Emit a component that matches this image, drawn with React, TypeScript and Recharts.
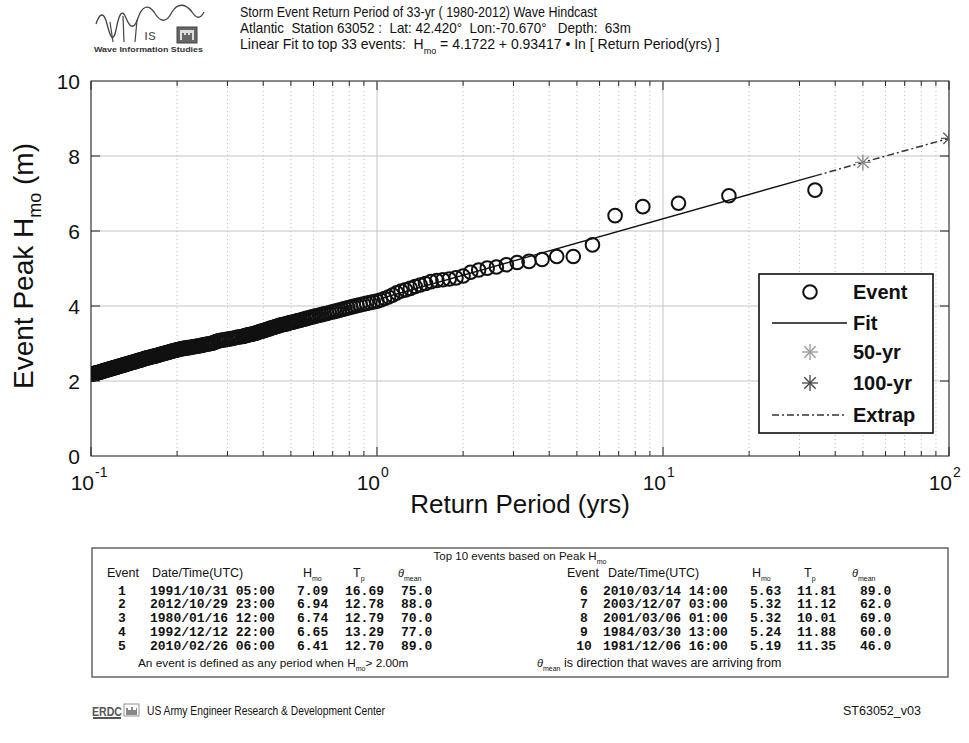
import React from 'react';
import {
  ComposedChart,
  Scatter,
  XAxis,
  YAxis,
  CartesianGrid,
  ReferenceLine,
  ReferenceArea,
  Legend,
  Label,
} from 'recharts';

const FONT = '"Liberation Sans", Arial, Helvetica, sans-serif';
const MONO = '"Liberation Mono", "Courier New", monospace';

// ---- Ranked storm events: return period (yrs) and peak Hmo (m) ----
const eventPeriod = [
  34, 17, 11.33, 8.5, 6.8, 5.667, 4.857, 4.25, 3.778, 3.4,
  3.091, 2.833, 2.615, 2.429, 2.267, 2.125, 2.0, 1.889, 1.789, 1.7,
  1.619, 1.545, 1.478, 1.417, 1.36, 1.308, 1.259, 1.214, 1.172, 1.133,
  1.097, 1.063, 1.03, 1.0, 0.971, 0.944, 0.919, 0.895, 0.872, 0.85,
  0.829, 0.81, 0.791, 0.773, 0.756, 0.739, 0.723, 0.708, 0.694, 0.68,
  0.667, 0.654, 0.642, 0.63, 0.618, 0.607, 0.596, 0.586, 0.576, 0.567,
  0.557, 0.548, 0.54, 0.531, 0.523, 0.515, 0.507, 0.5, 0.493, 0.486,
  0.479, 0.472, 0.466, 0.459, 0.453, 0.447, 0.442, 0.436, 0.43, 0.425,
  0.42, 0.415, 0.41, 0.405, 0.4, 0.395, 0.391, 0.386, 0.382, 0.378,
  0.374, 0.37, 0.366, 0.362, 0.358, 0.354, 0.351, 0.347, 0.343, 0.34,
  0.333, 0.327, 0.321, 0.315, 0.309, 0.304, 0.298, 0.293, 0.288, 0.283,
  0.279, 0.274, 0.27, 0.266, 0.262, 0.258, 0.254, 0.25, 0.246, 0.243,
  0.239, 0.236, 0.233, 0.23, 0.227, 0.224, 0.221, 0.218, 0.215, 0.2125,
  0.21, 0.207, 0.205, 0.202, 0.2, 0.198, 0.195, 0.193, 0.191, 0.189,
  0.187, 0.185, 0.183, 0.181, 0.179, 0.177, 0.175, 0.173, 0.172, 0.17,
  0.1683, 0.1667, 0.165, 0.1635, 0.1619, 0.1604, 0.1589, 0.1574, 0.156, 0.1545,
  0.1532, 0.1518, 0.1504, 0.1491, 0.1478, 0.1466, 0.1453, 0.1441, 0.1429, 0.1417,
  0.1405, 0.1393, 0.1382, 0.1371, 0.136, 0.1349, 0.1339, 0.1328, 0.1318, 0.1308,
  0.1298, 0.1288, 0.1278, 0.1269, 0.1259, 0.125, 0.1241, 0.1232, 0.1223, 0.1214,
  0.1206, 0.1197, 0.1189, 0.1181, 0.1172, 0.1164, 0.1156, 0.1149, 0.1141, 0.1133,
  0.1126, 0.1118, 0.1111, 0.1104, 0.1097, 0.109, 0.1083, 0.1076, 0.1069, 0.1063,
  0.1056, 0.1049, 0.1043, 0.1037, 0.103, 0.1024, 0.1018, 0.1012,
];

const eventHmo = [
  7.09, 6.94, 6.74, 6.65, 6.41, 5.63, 5.32, 5.32, 5.24, 5.19,
  5.16, 5.1, 5.04, 5.01, 4.96, 4.9, 4.8, 4.75, 4.72, 4.7,
  4.68, 4.65, 4.6, 4.56, 4.52, 4.47, 4.43, 4.4, 4.35, 4.29,
  4.24, 4.2, 4.16, 4.13, 4.11, 4.09, 4.07, 4.05, 4.03, 4.01,
  3.99, 3.97, 3.95, 3.93, 3.91, 3.89, 3.87, 3.85, 3.84, 3.82,
  3.8, 3.79, 3.77, 3.76, 3.74, 3.73, 3.71, 3.7, 3.68, 3.67,
  3.65, 3.64, 3.62, 3.61, 3.6, 3.58, 3.57, 3.56, 3.55, 3.53,
  3.52, 3.51, 3.5, 3.49, 3.47, 3.46, 3.45, 3.43, 3.42, 3.41,
  3.39, 3.38, 3.37, 3.35, 3.34, 3.33, 3.32, 3.31, 3.29, 3.28,
  3.27, 3.26, 3.25, 3.24, 3.24, 3.23, 3.22, 3.21, 3.2, 3.19,
  3.18, 3.17, 3.16, 3.14, 3.13, 3.12, 3.11, 3.1, 3.09, 3.08,
  3.07, 3.05, 3.03, 3.01, 3.0, 2.99, 2.98, 2.97, 2.96, 2.95,
  2.94, 2.93, 2.92, 2.92, 2.91, 2.9, 2.89, 2.89, 2.88, 2.87,
  2.87, 2.86, 2.85, 2.84, 2.83, 2.82, 2.81, 2.8, 2.79, 2.78,
  2.77, 2.76, 2.75, 2.74, 2.73, 2.72, 2.71, 2.7, 2.69, 2.68,
  2.67, 2.66, 2.66, 2.65, 2.64, 2.63, 2.62, 2.62, 2.61, 2.6,
  2.59, 2.58, 2.57, 2.56, 2.55, 2.55, 2.54, 2.53, 2.52, 2.51,
  2.5, 2.5, 2.49, 2.48, 2.47, 2.46, 2.46, 2.45, 2.44, 2.43,
  2.43, 2.42, 2.41, 2.4, 2.4, 2.39, 2.38, 2.37, 2.37, 2.36,
  2.35, 2.35, 2.34, 2.33, 2.33, 2.32, 2.31, 2.31, 2.3, 2.29,
  2.29, 2.28, 2.27, 2.27, 2.26, 2.25, 2.25, 2.24, 2.23, 2.23,
  2.22, 2.22, 2.21, 2.21, 2.2, 2.2, 2.19, 2.18,
];

// ---- Fit, extrapolation, design events ----
const fitPeriod = [1.03, 34];
const fitHmo = [4.2, 7.47];
const extrapPeriod = [34, 50, 100];
const extrapHmo = [7.47, 7.83, 8.47];
const yr50Period = [50];
const yr50Hmo = [7.83];
const yr100Period = [100];
const yr100Hmo = [8.47];

// ---- Axes ----
const xTicks = [
  0.1, 0.2, 0.3, 0.4, 0.5, 0.6, 0.7, 0.8, 0.9,
  1, 2, 3, 4, 5, 6, 7, 8, 9,
  10, 20, 30, 40, 50, 60, 70, 80, 90, 100,
];
const xMajorTicks = [0.1, 1, 10, 100];
const xMajorExponents = ['-1', '0', '1', '2'];
const xMinorGrid = [
  0.2, 0.3, 0.4, 0.5, 0.6, 0.7, 0.8, 0.9,
  2, 3, 4, 5, 6, 7, 8, 9,
  20, 30, 40, 50, 60, 70, 80, 90,
];
const xMajorGrid = [1, 10];
const yTicks = [0, 2, 4, 6, 8, 10];

// ---- Top-10 table ----
const topEventNo = [1, 2, 3, 4, 5, 6, 7, 8, 9, 10];
const topDate = [
  '1991/10/31 05:00', '2012/10/29 23:00', '1980/01/16 12:00', '1992/12/12 22:00', '2010/02/26 06:00',
  '2010/03/14 14:00', '2003/12/07 03:00', '2001/03/06 01:00', '1984/03/30 13:00', '1981/12/06 16:00',
];
const topHmo = ['7.09', '6.94', '6.74', '6.65', '6.41', '5.63', '5.32', '5.32', '5.24', '5.19'];
const topTp = ['16.69', '12.78', '12.79', '13.29', '12.70', '11.81', '11.12', '10.01', '11.88', '11.35'];
const topDir = ['75.0', '88.0', '70.0', '77.0', '89.0', '89.0', '62.0', '69.0', '60.0', '46.0'];

// ---- Layout constants ----
const W = 969;
const H = 743;
const PLOT_W = 858;
const PLOT_H = 375;

const eventData = eventPeriod.map((x, i) => ({ x, y: eventHmo[i] }));
const fitData = fitPeriod.map((x, i) => ({ x, y: fitHmo[i] }));
const extrapData = extrapPeriod.map((x, i) => ({ x, y: extrapHmo[i] }));
const yr50Data = yr50Period.map((x, i) => ({ x, y: yr50Hmo[i] }));
const yr100Data = yr100Period.map((x, i) => ({ x, y: yr100Hmo[i] }));

const Ring = (props: any) => {
  const { cx, cy } = props;
  if (cx == null || cy == null) return <g />;
  return <circle cx={cx} cy={cy} r={6.8} fill="none" stroke="#111" strokeWidth={2} />;
};

const StarMark = ({ cx, cy, color }: { cx: number; cy: number; color: string }) => {
  const s = 8;
  const d = 5.7;
  return (
    <g stroke={color} strokeWidth={1.3}>
      <line x1={cx - s} y1={cy} x2={cx + s} y2={cy} />
      <line x1={cx} y1={cy - s} x2={cx} y2={cy + s} />
      <line x1={cx - d} y1={cy - d} x2={cx + d} y2={cy + d} />
      <line x1={cx - d} y1={cy + d} x2={cx + d} y2={cy - d} />
    </g>
  );
};

const NoMark = () => <g />;

const XTick = (props: any) => {
  const { x, y, payload } = props;
  const v = payload.value;
  const mi = xMajorTicks.indexOf(v);
  const len = mi >= 0 ? 9 : 5;
  return (
    <g>
      <line x1={x} y1={y} x2={x} y2={y - len} stroke="#222" strokeWidth={1} />
      <line x1={x} y1={y - PLOT_H} x2={x} y2={y - PLOT_H + len} stroke="#222" strokeWidth={1} />
      {mi >= 0 && (
        <g fontFamily={FONT} fill="#111">
          <text x={x + 3} y={y + 34} textAnchor="end" fontSize={21}>10</text>
          <text x={x + 4} y={y + 21} textAnchor="start" fontSize={14}>{xMajorExponents[mi]}</text>
        </g>
      )}
    </g>
  );
};

const YTick = (props: any) => {
  const { x, y, payload } = props;
  const v = payload.value;
  return (
    <g>
      {v > 0 && v < 10 && (
        <g stroke="#222" strokeWidth={1}>
          <line x1={x} y1={y} x2={x + 9} y2={y} />
          <line x1={x + PLOT_W} y1={y} x2={x + PLOT_W - 9} y2={y} />
        </g>
      )}
      <text x={x - 11} y={y + 7.5} textAnchor="end" fontSize={21} fontFamily={FONT} fill="#111">
        {v}
      </text>
    </g>
  );
};

const LegendBox = () => {
  const rows = [19, 50, 79, 110, 142];
  const mx = 52;
  const tx = 95;
  const textProps = { x: tx, fontSize: 20, fontWeight: 700, fontFamily: FONT, fill: '#111' } as any;
  return (
    <svg width={176} height={162} style={{ display: 'block' }}>
      <rect x={1} y={1} width={174} height={159} fill="#fff" stroke="#111" strokeWidth={1.6} />
      <circle cx={mx} cy={rows[0]} r={6.8} fill="none" stroke="#111" strokeWidth={2} />
      <text {...textProps} y={rows[0] + 7}>Event</text>
      <line x1={14} y1={rows[1]} x2={89} y2={rows[1]} stroke="#111" strokeWidth={1.4} />
      <text {...textProps} y={rows[1] + 7}>Fit</text>
      <StarMark cx={mx} cy={rows[2]} color="#9a9a9a" />
      <text {...textProps} y={rows[2] + 7}>50-yr</text>
      <StarMark cx={mx} cy={rows[3]} color="#444" />
      <text {...textProps} y={rows[3] + 7}>100-yr</text>
      <line x1={14} y1={rows[4]} x2={89} y2={rows[4]} stroke="#333" strokeWidth={1.4} strokeDasharray="7 3 2 3" />
      <text {...textProps} y={rows[4] + 7}>Extrap</text>
    </svg>
  );
};

const Logo = () => (
  <g>
    <path
      d="M96 24 C100 12 104 12 107 24 C110 36 113 44 116 30 C119 14 122 8 126 18 C130 28 134 30 138 18 C142 6 148 4 154 12 C160 22 166 24 172 12 C178 2 186 4 192 12 C196 18 200 20 204 12"
      fill="none"
      stroke="#444"
      strokeWidth={1.3}
    />
    <path d="M110 22 L113 42 M123 16 L124 42 M137 20 L135 42" stroke="#444" strokeWidth={1.2} fill="none" />
    <text x={144} y={40} fontFamily={FONT} fontSize={15} fill="#555">ıs</text>
    <rect x={177} y={27} width={20} height={16} fill="#666" stroke="#444" />
    <rect x={180} y={30} width={14} height={10} fill="#ddd" />
    <path d="M182 40 L182 33 L184 33 L184 35 L186 35 L186 33 L188 33 L188 35 L190 35 L190 33 L192 33 L192 40" fill="#666" />
    <text x={94} y={52} fontFamily={FONT} fontSize={6.4} fontWeight={700} fill="#333" textLength={109} lengthAdjust="spacingAndGlyphs">
      Wave Information Studies
    </text>
  </g>
);

const ErdcLogo = () => (
  <g>
    <text x={92} y={716} fontFamily={FONT} fontSize={13} fontWeight={700} fill="#555" textLength={30} lengthAdjust="spacingAndGlyphs">
      ERDC
    </text>
    <rect x={93} y={717} width={28} height={2} fill="#555" />
    <rect x={124} y={704} width={15} height={12} fill="#fff" stroke="#777" strokeWidth={0.8} />
    <path d="M126 715 L126 708 L128 708 L128 710 L131 710 L131 707 L133 707 L133 710 L136 710 L136 708 L137 708 L137 715 Z" fill="#888" />
  </g>
);

const Overlay = () => {
  const leftCols = { no: 122, date: 150, h: 297, tp: 345, dir: 401 };
  const rightCols = { no: 584, date: 603, h: 750, tp: 797, dir: 860 };
  const rowY = [594.5, 608.3, 622, 635.8, 649.5];
  const mono = { fontFamily: MONO, fontSize: 13, fontWeight: 700, fill: '#111' } as any;
  const sans = { fontFamily: FONT, fill: '#111' } as any;
  const renderRows = (start: number, cols: any) =>
    rowY.map((yy, k) => {
      const i = start + k;
      return (
        <g key={i} {...mono}>
          <text x={cols.no} y={yy} textAnchor="middle">{topEventNo[i]}</text>
          <text x={cols.date} y={yy}>{topDate[i]}</text>
          <text x={cols.h} y={yy}>{topHmo[i]}</text>
          <text x={cols.tp} y={yy}>{topTp[i]}</text>
          <text x={cols.dir} y={yy}>{topDir[i]}</text>
        </g>
      );
    });
  const header = (ev: number, dt: number, hx: number, tx: number, thx: number) => (
    <g {...sans} fontSize={12.5}>
      <text x={ev} y={577}>Event</text>
      <text x={dt} y={577}>Date/Time(UTC)</text>
      <text x={hx} y={577}>H<tspan fontSize={7} dy={4}>mo</tspan></text>
      <text x={tx} y={577}>T<tspan fontSize={7} dy={4}>p</tspan></text>
      <text x={thx} y={577}>
        <tspan fontStyle="italic" fontSize={11}>θ</tspan>
        <tspan fontSize={7} dy={4}>mean</tspan>
      </text>
    </g>
  );
  return (
    <svg width={W} height={H} style={{ position: 'absolute', left: 0, top: 0, pointerEvents: 'none' }}>
      <Logo />
      <g {...sans}>
        <text x={240} y={17} fontSize={15} textLength={357} lengthAdjust="spacingAndGlyphs">
          Storm Event Return Period of 33-yr ( 1980-2012) Wave Hindcast
        </text>
        <text x={240} y={33} fontSize={15} xmlSpace="preserve" textLength={391} lengthAdjust="spacingAndGlyphs">
          {'Atlantic  Station 63052 :  Lat: 42.420°  Lon:-70.670°   Depth:  63m'}
        </text>
        <text x={240} y={49} fontSize={14} xmlSpace="preserve">
          {'Linear Fit to top 33 events:  H'}
          <tspan fontSize={9} dy={5}>mo</tspan>
          <tspan dy={-5}>{' = 4.1722 + 0.93417 • In [ Return Period(yrs) ]'}</tspan>
        </text>
      </g>

      {/* table */}
      <rect x={92} y={548} width={856} height={129} fill="none" stroke="#666" strokeWidth={1.5} />
      <text {...sans} x={520} y={560} fontSize={11.5} textAnchor="middle">
        Top 10 events based on Peak H<tspan fontSize={7} dy={4}>mo</tspan>
      </text>
      {header(107, 152, 303, 353, 398)}
      {header(567, 608, 752, 804, 852)}
      {renderRows(0, leftCols)}
      {renderRows(5, rightCols)}
      <text {...sans} x={138} y={667} fontSize={11.8}>
        An event is defined as any period when H<tspan fontSize={7} dy={4}>mo</tspan>
        <tspan dy={-4}>{'> 2.00m'}</tspan>
      </text>
      <text {...sans} x={537} y={667} fontSize={12.5}>
        <tspan fontStyle="italic" fontSize={11}>θ</tspan>
        <tspan fontSize={7} dy={4}>mean</tspan>
        <tspan dy={-4}>{' is direction that waves are arriving from'}</tspan>
      </text>

      {/* footer */}
      <ErdcLogo />
      <text {...sans} x={147} y={715} fontSize={12.5} textLength={238} lengthAdjust="spacingAndGlyphs">
        US Army Engineer Research &amp; Development Center
      </text>
      <text {...sans} x={843} y={715} fontSize={12.5}>ST63052_v03</text>
    </svg>
  );
};

const YLabel = () => (
  <text
    transform="translate(33, 266) rotate(-90)"
    textAnchor="middle"
    fontFamily={FONT}
    fontSize={28}
    fill="#111"
  >
    Event Peak H<tspan fontSize={18} dy={8}>mo</tspan>
    <tspan dy={-8}> (m)</tspan>
  </text>
);

const XLabel = () => (
  <text x={520} y={513} textAnchor="middle" fontFamily={FONT} fontSize={26} fill="#111">
    Return Period (yrs)
  </text>
);

export default function App() {
  return (
    <div style={{ position: 'absolute', left: 0, top: 0, width: W, height: H, background: '#fff' }}>
      <div style={{ position: 'absolute', left: 0, top: 0 }}>
        <ComposedChart
          width={W}
          height={H}
          margin={{ top: 81, right: 20, bottom: 257, left: 0 }}
        >
          <CartesianGrid vertical={false} stroke="#c4c4c4" strokeWidth={1} />
          {xMinorGrid.map((v) => (
            <ReferenceLine key={'mg' + v} x={v} stroke="#bdbdbd" strokeWidth={1} strokeDasharray="1 3" />
          ))}
          {xMajorGrid.map((v) => (
            <ReferenceLine key={'Mg' + v} x={v} stroke="#c4c4c4" strokeWidth={1} />
          ))}
          <XAxis
            dataKey="x"
            type="number"
            scale="log"
            domain={[0.1, 100]}
            ticks={xTicks}
            interval={0}
            allowDataOverflow
            tick={XTick}
            tickLine={false}
            axisLine={false}
            tickSize={0}
            tickMargin={0}
            height={30}
          >
            <Label content={XLabel} />
          </XAxis>
          <YAxis
            dataKey="y"
            type="number"
            domain={[0, 10]}
            ticks={yTicks}
            interval={0}
            allowDataOverflow
            tick={YTick}
            tickLine={false}
            axisLine={false}
            tickSize={0}
            tickMargin={0}
            width={91}
          >
            <Label content={YLabel} />
          </YAxis>
          <ReferenceArea x1={0.1} x2={100} y1={0} y2={10} fill="none" stroke="#333" strokeWidth={1.2} />
          <Scatter name="Event" data={eventData} shape={Ring} isAnimationActive={false} />
          <Scatter
            name="Fit"
            data={fitData}
            shape={NoMark}
            line={{ stroke: '#111', strokeWidth: 1.4 }}
            lineType="joint"
            isAnimationActive={false}
          />
          <Scatter
            name="Extrap"
            data={extrapData}
            shape={NoMark}
            line={{ stroke: '#333', strokeWidth: 1.5, strokeDasharray: '7 3 2 3' }}
            lineType="joint"
            isAnimationActive={false}
          />
          <Scatter
            name="50-yr"
            data={yr50Data}
            shape={(p: any) => <StarMark cx={p.cx} cy={p.cy} color="#8a8a8a" />}
            isAnimationActive={false}
          />
          <Scatter
            name="100-yr"
            data={yr100Data}
            shape={(p: any) => <StarMark cx={p.cx} cy={p.cy} color="#555" />}
            isAnimationActive={false}
          />
          <Legend
            layout="horizontal"
            align="center"
            verticalAlign="middle"
            content={LegendBox}
            wrapperStyle={{ position: 'absolute', left: 758, top: 273, width: 176, height: 162, margin: 0, padding: 0 }}
          />
        </ComposedChart>
      </div>
      <Overlay />
    </div>
  );
}
